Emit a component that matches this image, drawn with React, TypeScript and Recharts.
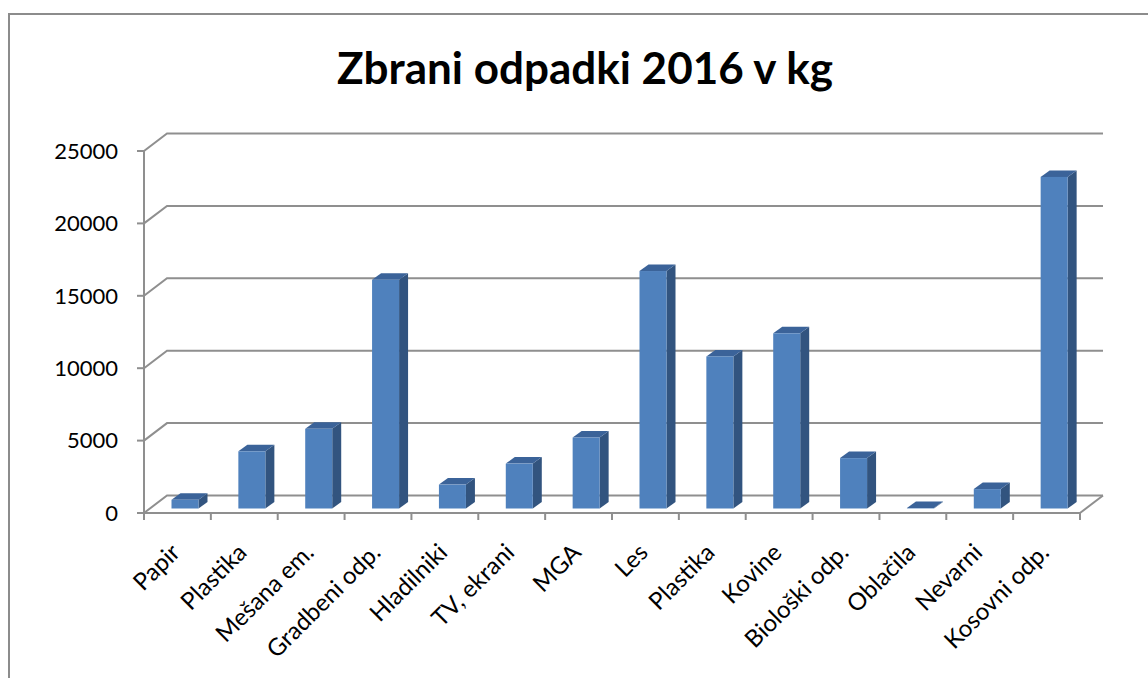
import React from 'react';
import { BarChart, Bar, XAxis, YAxis, CartesianGrid } from 'recharts';

const title = 'Zbrani odpadki 2016 v kg';
const categories = [
  'Papir', 'Plastika', 'Mešana em.', 'Gradbeni odp.', 'Hladilniki', 'TV, ekrani', 'MGA',
  'Les', 'Plastika', 'Kovine', 'Biološki odp.', 'Oblačila', 'Nevarni', 'Kosovni odp.',
];
const values = [600, 3950, 5500, 15800, 1650, 3100, 4900, 16400, 10500, 12100, 3480, 30, 1340, 22900];
const yTicks = [0, 5000, 10000, 15000, 20000, 25000];

const data = categories.map((_, i) => ({ idx: i, value: values[i] }));

const W = 1148;
const H = 678;
const LEFT = 144;
const RIGHT = 68;
const TOP = 151;
const AXIS_Y = 513;
const XAXIS_H = 120;
const BAND = (W - LEFT - RIGHT) / categories.length;

const WALL_DX = 23;
const WALL_DY = 17.5;
const BAR_DX0 = 7.5;
const BAR_DY0 = 4.5;
const DEPTH_DX = 9;
const DEPTH_DY = 6.5;

const GRID = '#8f8f8f';
const FRONT = '#4f81bd';
const TOPC = '#3b6399';
const SIDE = '#32547f';
const FONT = 'Lato, "Open Sans", sans-serif';

const Bar3D = (props: any) => {
  const { x, y, width, height } = props;
  if (x == null || y == null) return null;
  const fx = x + BAR_DX0;
  const fy = y - BAR_DY0;
  const w = width;
  const h = Math.max(height, 0);
  const side = `${fx + w},${fy} ${fx + w + DEPTH_DX},${fy - DEPTH_DY} ${fx + w + DEPTH_DX},${fy + h - DEPTH_DY} ${fx + w},${fy + h}`;
  const top = `${fx},${fy} ${fx + DEPTH_DX},${fy - DEPTH_DY} ${fx + w + DEPTH_DX},${fy - DEPTH_DY} ${fx + w},${fy}`;
  return (
    <g>
      <polygon points={side} fill={SIDE} />
      <polygon points={top} fill={TOPC} />
      <rect x={fx} y={fy} width={w} height={h} fill={FRONT} />
    </g>
  );
};

const GridLine = (props: any) => {
  const { x1, y1, x2, y, height } = props;
  const bottom = (y ?? 0) + (height ?? 0);
  const isFloor = Math.abs(y1 - bottom) < 1;
  return (
    <g key={props.key}>
      <polyline
        points={`${x1},${y1} ${x1 + WALL_DX},${y1 - WALL_DY} ${x2 + WALL_DX},${y1 - WALL_DY}`}
        fill="none"
        stroke={GRID}
        strokeWidth={2}
      />
      {isFloor && (
        <line x1={x2} y1={y1} x2={x2 + WALL_DX} y2={y1 - WALL_DY} stroke={GRID} strokeWidth={2} />
      )}
    </g>
  );
};

const XTick = (props: any) => {
  const { x, y, payload, index } = props;
  const i = payload.value as number;
  const px = x + 4;
  const py = y + 41;
  return (
    <g>
      <line x1={x - BAND / 2} y1={y} x2={x - BAND / 2} y2={y + 7} stroke={GRID} strokeWidth={2} />
      {index === categories.length - 1 && (
        <line x1={x + BAND / 2} y1={y} x2={x + BAND / 2} y2={y + 7} stroke={GRID} strokeWidth={2} />
      )}
      <g transform={`translate(${px}, ${py}) rotate(-45)`}>
        <text x={0} y={0} textAnchor="end" fontFamily={FONT} fontSize={24} fill="#000">
          {categories[i]}
        </text>
      </g>
    </g>
  );
};

export default function App() {
  return (
    <div style={{ position: 'absolute', left: 0, top: 0, width: W, height: H, overflow: 'hidden', background: '#fff' }}>
      <div
        style={{
          position: 'absolute',
          left: 8,
          top: 13,
          width: 1200,
          height: 700,
          border: '2px solid #8c8c8c',
          boxSizing: 'border-box',
        }}
      />
      <div
        style={{
          position: 'absolute',
          left: 0,
          top: 37,
          width: 1170,
          textAlign: 'center',
          fontFamily: FONT,
          fontWeight: 700,
          fontSize: 44,
          lineHeight: '60px',
          color: '#000',
        }}
      >
        {title}
      </div>
      <div style={{ position: 'absolute', left: 0, top: 0 }}>
        <BarChart
          width={W}
          height={H}
          data={data}
          margin={{ top: TOP, right: RIGHT, bottom: H - AXIS_Y - XAXIS_H, left: 0 }}
          barSize={27}
        >
          <CartesianGrid vertical={false} horizontal={GridLine} />
          <XAxis
            dataKey="idx"
            type="category"
            height={XAXIS_H}
            axisLine={{ stroke: GRID, strokeWidth: 2 }}
            tickLine={false}
            tickSize={0}
            tickMargin={0}
            interval={0}
            tick={XTick}
          />
          <YAxis
            type="number"
            width={LEFT}
            domain={[0, 25000]}
            ticks={yTicks}
            interval={0}
            axisLine={{ stroke: GRID, strokeWidth: 2 }}
            tickLine={{ stroke: GRID, strokeWidth: 2 }}
            tickSize={7}
            tickMargin={19}
            tick={{ fontFamily: FONT, fontSize: 22, fill: '#000' }}
          />
          <Bar dataKey="value" isAnimationActive={false} shape={Bar3D} />
        </BarChart>
      </div>
    </div>
  );
}
